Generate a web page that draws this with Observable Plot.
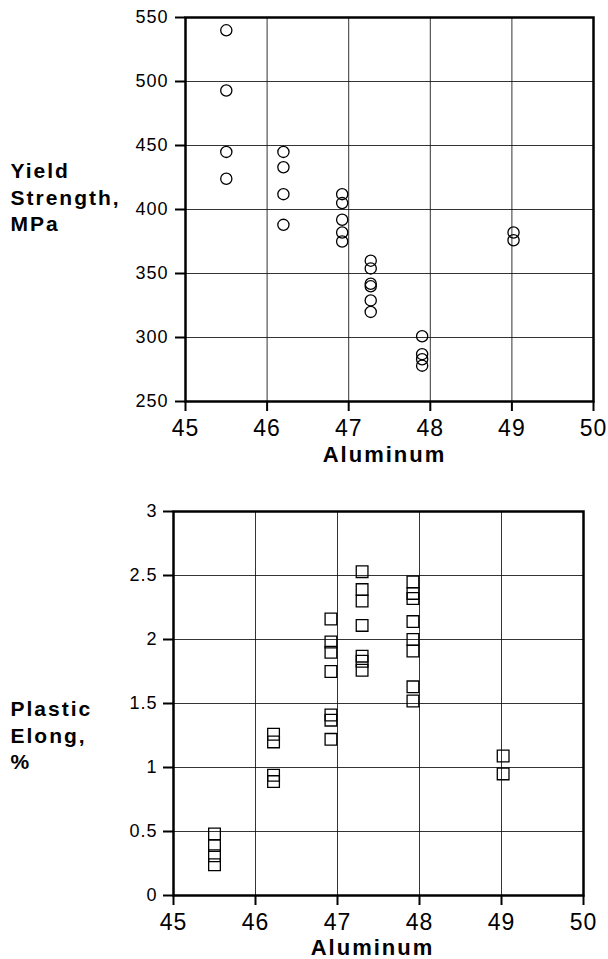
<!DOCTYPE html>
<html><head><meta charset="utf-8">
<script src="https://cdn.jsdelivr.net/npm/d3@7"></script>
<script src="https://cdn.jsdelivr.net/npm/@observablehq/plot@0.6"></script>
<style>
body{margin:0;background:#fff;}
#top,#bottom{display:block;line-height:0;}
svg{display:block;}
</style>
</head><body>
<div id="top"></div><div id="bottom"></div>
<script>
const xTicks = [45, 46, 47, 48, 49, 50];
const yieldTicks = [250, 300, 350, 400, 450, 500, 550];
const elongTicks = [0, 0.5, 1, 1.5, 2, 2.5, 3];

const yieldAl = [45.5, 45.5, 45.5, 45.5,
  46.2, 46.2, 46.2, 46.2,
  46.92, 46.92, 46.92, 46.92, 46.92,
  47.27, 47.27, 47.27, 47.27, 47.27, 47.27,
  47.9, 47.9, 47.9, 47.9,
  49.02, 49.02];
const yieldMPa = [540, 493, 445, 424,
  445, 433, 412, 388,
  412, 405, 392, 382, 375,
  360, 354, 342, 340, 329, 320,
  301, 287, 283, 278,
  382, 376];

const elongAl = [45.5, 45.5, 45.5, 45.5,
  46.22, 46.22, 46.22, 46.22,
  46.92, 46.92, 46.92, 46.92, 46.92, 46.92, 46.92,
  47.3, 47.3, 47.3, 47.3, 47.3, 47.3, 47.3,
  47.92, 47.92, 47.92, 47.92, 47.92, 47.92, 47.92, 47.92,
  49.02, 49.02];
const elongPct = [0.48, 0.39, 0.31, 0.24,
  1.26, 1.20, 0.94, 0.89,
  2.16, 1.98, 1.90, 1.75, 1.41, 1.37, 1.22,
  2.53, 2.39, 2.30, 2.11, 1.87, 1.83, 1.76,
  2.45, 2.36, 2.32, 2.14, 2.00, 1.91, 1.63, 1.52,
  1.09, 0.95];

const yieldTitle = "Yield\nStrength,\nMPa";
const elongTitle = "Plastic\nElong,\n%";
const xTitle = "Aluminum";

const font = "'Liberation Sans', Arial, Helvetica, sans-serif";
const gridStyle = {stroke: "#111", strokeOpacity: 0.85, strokeWidth: 1};

function post(svg) {
  const s = d3.select(svg);
  s.selectAll('g[aria-label="text"] text').style("letter-spacing", "2px");
  s.selectAll('g[aria-label$="tick label"] text').style("letter-spacing", "1px");
  return svg;
}

const topChart = Plot.plot({
  width: 608, height: 480,
  marginTop: 17, marginBottom: 79, marginLeft: 185, marginRight: 15,
  style: {fontFamily: font, background: "white", color: "black"},
  x: {domain: [45, 50]},
  y: {domain: [250, 550]},
  marks: [
    Plot.gridX(xTicks, gridStyle),
    Plot.gridY(yieldTicks, gridStyle),
    Plot.axisY(yieldTicks, {tickSize: 10, tickPadding: 7, fontSize: 18, strokeWidth: 2, label: null, tickFormat: d => String(d)}),
    Plot.axisX(xTicks, {tickSize: 10, tickPadding: 8, fontSize: 23, strokeWidth: 2, label: null, tickFormat: d => String(d)}),
    Plot.frame({stroke: "black", strokeWidth: 2.5}),
    Plot.dot(yieldMPa, {x: (d, i) => yieldAl[i], y: d => d, r: 5.6, stroke: "black", strokeWidth: 1.3, fill: "none"}),
    Plot.text([yieldTitle], {frameAnchor: "top-left", textAnchor: "start", lineAnchor: "top", dx: -175, dy: 142, fontSize: 21, fontWeight: "bold", lineHeight: 1.26}),
    Plot.text([xTitle], {frameAnchor: "bottom", lineAnchor: "top", dx: -5, dy: 45, fontSize: 22, fontWeight: "bold"})
  ]
});

const bottomChart = Plot.plot({
  width: 608, height: 479,
  marginTop: 31, marginBottom: 64, marginLeft: 173, marginRight: 25,
  style: {fontFamily: font, background: "white", color: "black"},
  x: {domain: [45, 50]},
  y: {domain: [0, 3]},
  marks: [
    Plot.gridX(xTicks, gridStyle),
    Plot.gridY(elongTicks, gridStyle),
    Plot.axisY(elongTicks, {tickSize: 10, tickPadding: 6, fontSize: 18, strokeWidth: 2, label: null, tickFormat: d => String(d)}),
    Plot.axisX(xTicks, {tickSize: 10, tickPadding: 8, fontSize: 23, strokeWidth: 2, label: null, tickFormat: d => String(d)}),
    Plot.frame({stroke: "black", strokeWidth: 2.5}),
    Plot.dot(elongPct, {x: (d, i) => elongAl[i], y: d => d, symbol: "square", r: 6.6, stroke: "black", strokeWidth: 1.3, fill: "none"}),
    Plot.text([elongTitle], {frameAnchor: "top-left", textAnchor: "start", lineAnchor: "top", dx: -163, dy: 186, fontSize: 21, fontWeight: "bold", lineHeight: 1.26}),
    Plot.text([xTitle], {frameAnchor: "bottom", lineAnchor: "top", dx: -6, dy: 44, fontSize: 22, fontWeight: "bold"})
  ]
});

document.getElementById("top").appendChild(post(topChart));
document.getElementById("bottom").appendChild(post(bottomChart));
</script>
</body></html>
